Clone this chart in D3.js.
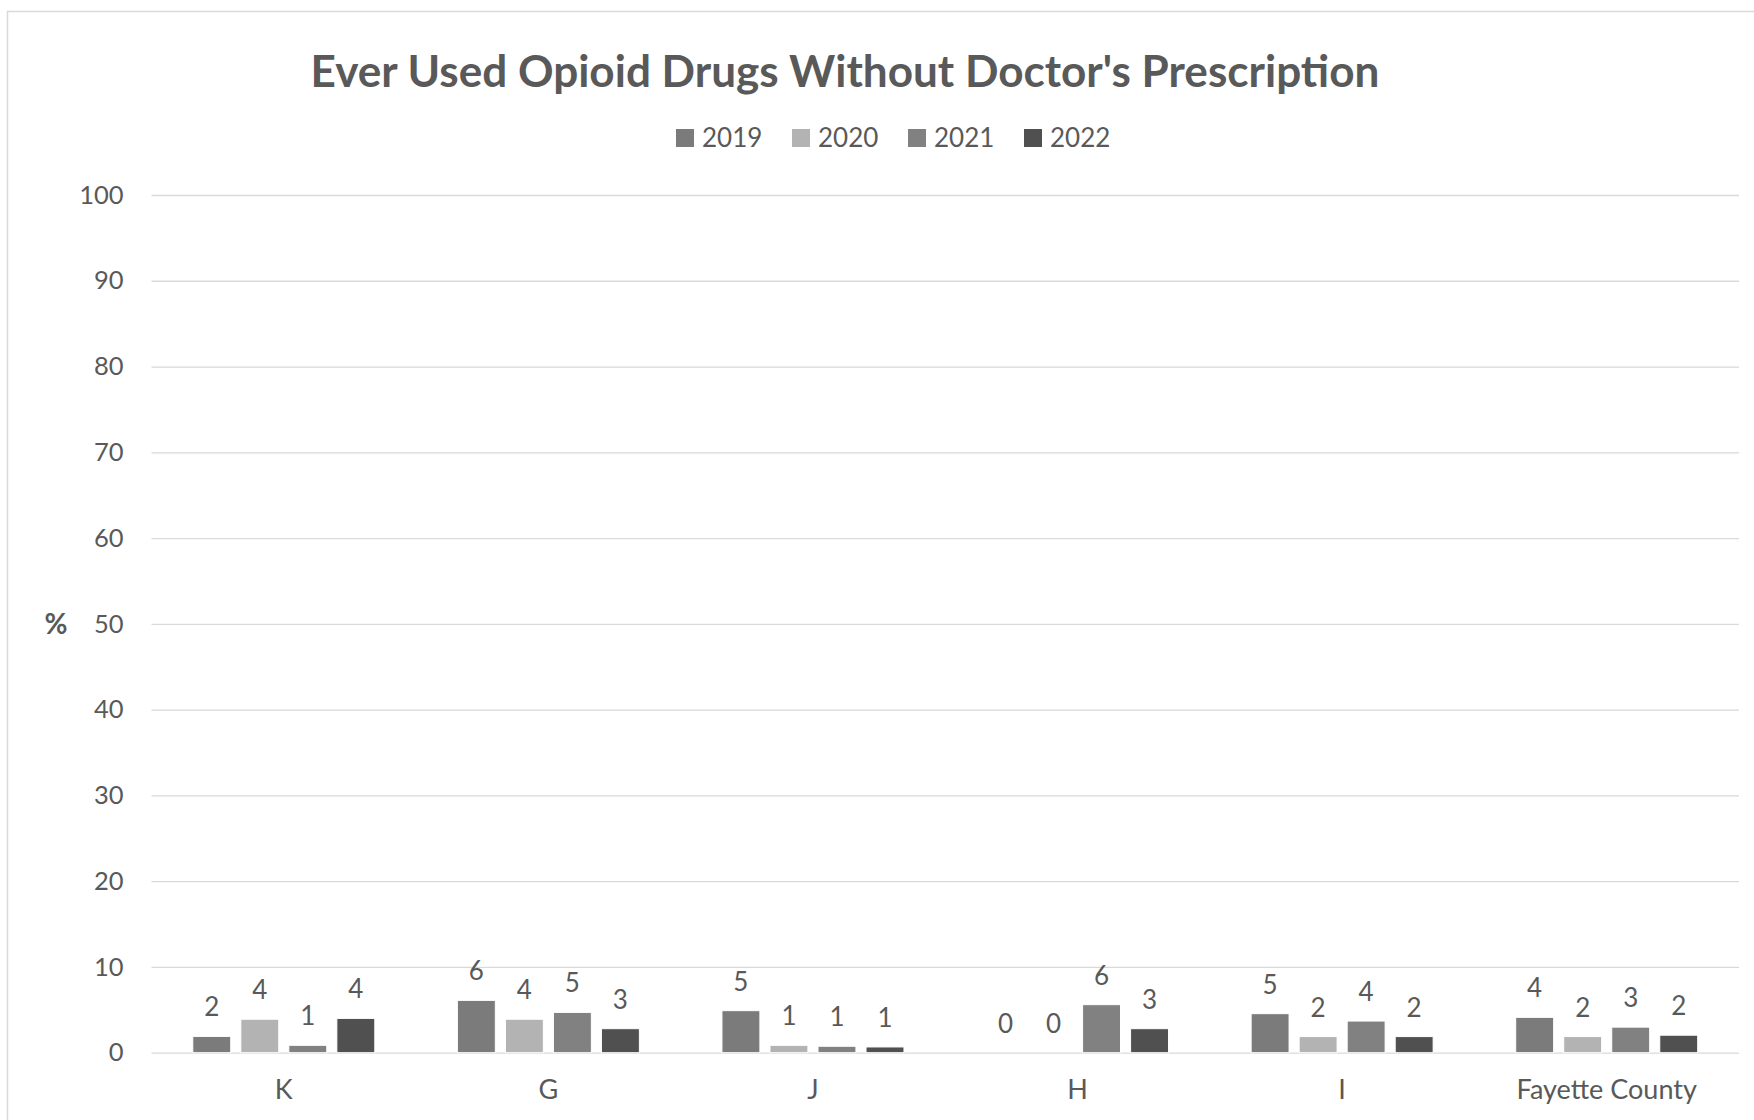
<!DOCTYPE html>
<html>
<head>
<meta charset="utf-8">
<script src="https://cdn.jsdelivr.net/npm/d3@7"></script>
<style>
  html, body { margin: 0; padding: 0; background: #ffffff; }
  svg { display: block; }
  text { font-family: Lato, "Open Sans", sans-serif; fill: #595959; }
</style>
</head>
<body>
<svg id="chart" width="1754" height="1120"></svg>
<script>
// ---- data ----
const categories = ["K", "G", "J", "H", "I", "Fayette County"];
const years = ["2019", "2020", "2021", "2022"];
const values2019 = [1.9, 6.1, 4.9, 0, 4.55, 4.12];
const values2020 = [3.9, 3.9, 0.86, 0, 1.88, 1.88];
const values2021 = [0.86, 4.7, 0.75, 5.6, 3.69, 2.98];
const values2022 = [4.0, 2.8, 0.67, 2.8, 1.88, 2.04];
const yTicks = [0, 10, 20, 30, 40, 50, 60, 70, 80, 90, 100];
const titleText = "Ever Used Opioid Drugs Without Doctor's Prescription";
const yAxisTitle = "%";

const seriesValues = [values2019, values2020, values2021, values2022];
const colors = ["#7b7b7b", "#b3b3b3", "#818181", "#505050"];

const svg = d3.select("#chart");
const W = 1754, H = 1120;
const plot = { left: 151.5, right: 1739, top: 195, bottom: 1052.7 };

// chart border
svg.append("rect")
  .attr("x", 7.5).attr("y", 11.5)
  .attr("width", W + 20).attr("height", H + 20)
  .attr("fill", "none").attr("stroke", "#d9d9d9").attr("stroke-width", 1.5);

// scales
const y = d3.scaleLinear().domain([0, 100]).range([plot.bottom, plot.top]);
const x0 = d3.scaleBand().domain(categories).range([plot.left, plot.right]).padding(0);
const groupW = 182;
const x1 = d3.scaleBand().domain(years)
  .range([(x0.bandwidth() - groupW) / 2, (x0.bandwidth() + groupW) / 2])
  .paddingInner(0.21).paddingOuter(0);

// gridlines + y labels
const yAxis = svg.append("g")
  .attr("transform", `translate(${plot.left},0)`)
  .call(d3.axisLeft(y).tickValues(yTicks).tickSize(-(plot.right - plot.left)).tickPadding(28).tickFormat(d3.format("d")));
yAxis.select(".domain").remove();
yAxis.selectAll(".tick line").attr("stroke", "#d9d9d9").attr("stroke-width", 1.3);
yAxis.selectAll(".tick text")
  .style("font-family", "Lato, sans-serif").style("font-size", "25.5px").attr("fill", "#595959");

// x labels
const xAxis = svg.append("g")
  .attr("transform", `translate(0,${plot.bottom})`)
  .call(d3.axisBottom(x0).tickSize(0).tickPadding(27));
xAxis.select(".domain").remove();
xAxis.selectAll(".tick text")
  .style("font-family", "Lato, sans-serif").style("font-size", "27px").attr("fill", "#595959");

// bars
const rows = categories.map((c, i) => ({ cat: c, vals: years.map((yr, s) => ({ year: yr, s: s, v: seriesValues[s][i] })) }));
const groups = svg.append("g").selectAll("g").data(rows).join("g")
  .attr("transform", d => `translate(${x0(d.cat)},0)`);
groups.selectAll("rect").data(d => d.vals).join("rect")
  .attr("x", d => x1(d.year))
  .attr("y", d => y(d.v))
  .attr("width", x1.bandwidth())
  .attr("height", d => y(0) - y(d.v))
  .attr("fill", d => colors[d.s])
  .attr("stroke", "#ffffff").attr("stroke-width", d => d.v > 0 ? 1 : 0);
groups.selectAll("text").data(d => d.vals).join("text")
  .attr("x", d => x1(d.year) + x1.bandwidth() / 2)
  .attr("y", d => y(d.v) - 20)
  .attr("text-anchor", "middle")
  .style("font-size", "26px")
  .text(d => d3.format(".0f")(d.v));

// y axis title
svg.append("text")
  .attr("x", 56).attr("y", y(50))
  .attr("dy", "0.35em")
  .attr("text-anchor", "middle")
  .style("font-size", "28px").style("font-weight", "bold")
  .text(yAxisTitle);

// title, fitted to target width
const title = svg.append("text")
  .attr("x", 845).attr("y", 87)
  .attr("text-anchor", "middle")
  .style("font-size", "40px").style("font-weight", "bold")
  .text(titleText);
const tw = title.node().getComputedTextLength();
title.style("font-size", (40 * 1069 / tw).toFixed(2) + "px");

// legend
const legendX = [676, 792, 908, 1024];
const legend = svg.append("g").selectAll("g").data(years).join("g")
  .attr("transform", (d, i) => `translate(${legendX[i]},129)`);
legend.append("rect").attr("width", 18).attr("height", 18).attr("fill", (d, i) => colors[i]);
legend.append("text").attr("x", 26).attr("y", 9).attr("dy", "0.36em")
  .style("font-size", "26px").text(d => d);
</script>
</body>
</html>
